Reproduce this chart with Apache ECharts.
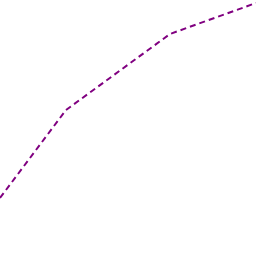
<!DOCTYPE html>
<html>
<head>
<meta charset="utf-8">
<style>
  html, body { margin: 0; padding: 0; background: #ffffff; }
  #main { width: 256px; height: 256px; }
</style>
<script src="https://cdn.jsdelivr.net/npm/echarts@6/dist/echarts.min.js"></script>
</head>
<body>
<div id="main"></div>
<script>
// data
var xs = [0, 66, 170, 256];
var ys = [58, 146, 222, 253];

var chart = echarts.init(document.getElementById('main'));
var points = [];
for (var i = 0; i < xs.length; i++) {
  points.push([xs[i], ys[i]]);
}

chart.setOption({
  backgroundColor: '#ffffff',
  animation: false,
  grid: { left: 0, right: 0, top: 0, bottom: 0 },
  xAxis: { type: 'value', min: 0, max: 256, show: false },
  yAxis: { type: 'value', min: 0, max: 256, show: false },
  series: [{
    type: 'line',
    data: points,
    symbol: 'none',
    clip: true,
    lineStyle: { color: '#800080', width: 2, type: [6, 4] }
  }]
});
</script>
</body>
</html>
